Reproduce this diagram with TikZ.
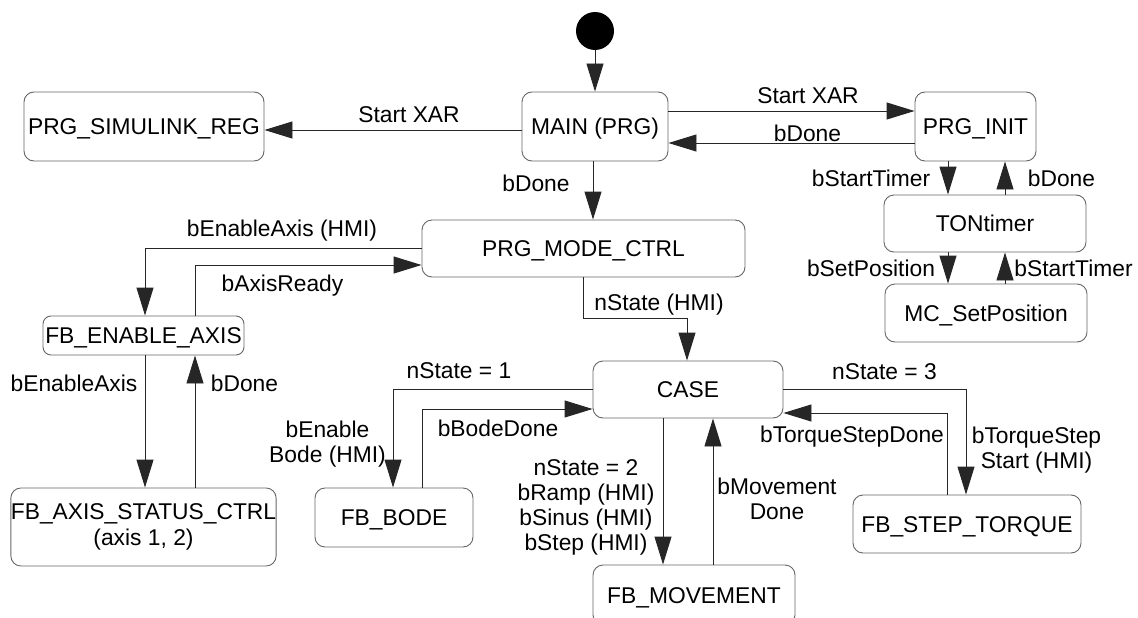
\documentclass[tikz,border=0pt]{standalone}
\usepackage{fontspec}
\setmainfont{Liberation Sans}
\usetikzlibrary{arrows.meta,calc}
\tikzset{
  box/.style={draw=black!60, line width=0.9pt, rounded corners=10pt, inner sep=0pt,
    text height=16.3pt, text depth=0pt},
  boxtwo/.style={draw=black!60, line width=0.9pt, rounded corners=10pt, inner sep=0pt, align=center},
  lbl/.style={inner sep=0pt, text height=16.3pt, text depth=0pt},
  mlbl/.style={inner sep=0pt, align=center, anchor=north},
  arr/.style={draw=black!85, line width=0.9pt, -{Triangle[length=28pt,width=17pt]}},
}
\begin{document}
\begin{tikzpicture}[x=1pt, y=-1pt, font=\fontsize{22.8}{25}\selectfont]
\useasboundingbox (0,0) rectangle (1138,618);
\clip (0,0) rectangle (1138,618);

% states
\node[circle, fill=black, minimum size=38pt, inner sep=0pt] (start) at (595,31) {};
\node[box, minimum width=240pt, minimum height=69pt] (sim)  at (144,126.5)  {PRG\_SIMULINK\_REG};
\node[box, minimum width=146pt, minimum height=69pt] (main) at (595,126.5)  {MAIN (PRG)};
\node[box, minimum width=121pt, minimum height=69pt] (init) at (975.5,126.5) {PRG\_INIT};
\node[box, minimum width=202pt, minimum height=57pt] (ton)  at (985,223.5)  {TONtimer};
\node[box, minimum width=202pt, minimum height=58pt] (mcsp) at (986,313)    {MC\_SetPosition};
\node[box, minimum width=323pt, minimum height=57pt] (mode) at (583.5,248.5) {PRG\_MODE\_CTRL};
\node[box, minimum width=201pt, minimum height=39pt, rounded corners=8pt] (fbea) at (143.5,335.5) {FB\_ENABLE\_AXIS};
\node[boxtwo, minimum width=265pt, minimum height=78pt] (fbasc) at (143.5,527) {FB\_AXIS\_STATUS\_CTRL\\[1.5pt](axis 1, 2)};
\node[box, minimum width=158pt, minimum height=59pt] (bode) at (394,517.5)  {FB\_BODE};
\node[box, minimum width=190pt, minimum height=57pt] (case) at (688,389.5)  {CASE};
\node[box, minimum width=202pt, minimum height=60pt] (mov)  at (694,595)    {FB\_MOVEMENT};
\node[box, minimum width=228pt, minimum height=58pt] (step) at (967,524)    {FB\_STEP\_TORQUE};

% transitions
\draw[arr] (start) -- (main.north);
\draw[arr] ([yshift=-3.5pt]main.west) -- ([yshift=-3.5pt]main.west -| sim.east);
\draw[arr] ([yshift=15.5pt]main.east) -- ([yshift=15.5pt]main.east -| init.west);
\draw[arr] ([yshift=-16.5pt]init.west) -- ([yshift=-16.5pt]init.west -| main.east);
\draw[arr] ([xshift=-2pt]main.south) -- ([xshift=-2pt]main.south |- mode.north);
\draw[arr] ([xshift=-27.5pt]init.south) -- ([xshift=-27.5pt]init.south |- ton.north);
\draw[arr] ([xshift=29.5pt]init.south |- ton.north) -- ([xshift=29.5pt]init.south);
\draw[arr] ([xshift=-37pt]ton.south) -- ([xshift=-37pt]ton.south |- mcsp.north);
\draw[arr] ([xshift=20pt]ton.south |- mcsp.north) -- ([xshift=20pt]ton.south);
\draw[arr] ([yshift=0.5pt]mode.west) -| ([xshift=1.5pt]fbea.north);
\draw[arr] ([xshift=51.5pt]fbea.north) |- ([yshift=-16.5pt]mode.west);
\draw[arr] ([xshift=1.5pt]fbea.south) -- ([xshift=1.5pt]fbea.south |- fbasc.north);
\draw[arr] ([xshift=51.5pt]fbea.south |- fbasc.north) -- ([xshift=51.5pt]fbea.south);
\draw[arr] (mode.south) -- ++(0,41) -| ([xshift=-1pt]case.north);
\draw[arr] (case.west) -| ([xshift=-1pt]bode.north);
\draw[arr] ([xshift=28pt]bode.north) |- ([yshift=-19.5pt]case.west);
\draw[arr] ([xshift=-25pt]case.south) -- ([xshift=-25pt]case.south |- mov.north);
\draw[arr] ([xshift=25pt]case.south |- mov.north) -- ([xshift=25pt]case.south);
\draw[arr] (case.east) -| ([xshift=-1pt]step.north);
\draw[arr] ([xshift=-20pt]step.north) |- ([yshift=-23.5pt]case.east);

% transition labels
\node[lbl] (lStartL)   at (409,114)     {Start XAR};
\node[lbl] (lStartR)   at (808,95)      {Start XAR};
\node[lbl] (lDoneTop)  at (807.5,133.5) {bDone};
\node[lbl] (lDoneMain) at (536,183.5)   {bDone};
\node[lbl] (lStTa)     at (871,178.5)   {bStartTimer};
\node[lbl] (lDoneInit) at (1061.5,178.5) {bDone};
\node[lbl] (lSetPos)   at (871,268)     {bSetPosition};
\node[lbl] (lStTb)     at (1073.5,268)  {bStartTimer};
\node[lbl] (lEnAxHMI)  at (282,228)     {bEnableAxis (HMI)};
\node[lbl] (lAxRdy)    at (282.5,283)   {bAxisReady};
\node[lbl] (lEnAx)     at (74,383.5)    {bEnableAxis};
\node[lbl] (lDoneEA)   at (244.5,383.5) {bDone};
\node[lbl] (lnHMI)     at (659,302.5)   {nState (HMI)};
\node[lbl] (lnOne)     at (459,370.5)   {nState = 1};
\node[mlbl] (lEnBode)  at (327.5,421)   {bEnable\\Bode (HMI)};
\node[lbl] (lBodeDone) at (498,428.5)   {bBodeDone};
\node[mlbl] (lnTwo)    at (586,459)     {nState = 2\\bRamp (HMI)\\bSinus (HMI)\\bStep (HMI)};
\node[mlbl] (lMovDone) at (777,478)     {bMovement\\Done};
\node[lbl] (lnThree)   at (884.5,371)   {nState = 3};
\node[mlbl] (lTqStart) at (1036.5,426.5) {bTorqueStep\\Start (HMI)};
\node[lbl] (lTqDone)   at (852,434)     {bTorqueStepDone};
\end{tikzpicture}
\end{document}
